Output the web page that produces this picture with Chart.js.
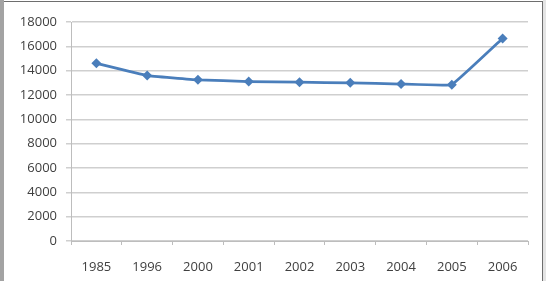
<!DOCTYPE html>
<html>
<head>
<meta charset="utf-8">
<script src="https://cdn.jsdelivr.net/npm/chart.js@4/dist/chart.umd.min.js"></script>
<style>
  html, body { margin: 0; padding: 0; background: #fff; overflow: hidden; }
  #wrap { position: absolute; left: 0; top: 0; width: 546px; height: 281px; }
  #chart { position: absolute; left: 0; top: 0; }
  .edge { position: absolute; pointer-events: none; }
</style>
</head>
<body>
<div id="wrap">
  <canvas id="chart" width="546" height="281"></canvas>
  <div class="edge" style="left:0;top:0;width:4px;height:281px;background:#a3a3a3;"></div>
  <div class="edge" style="left:4px;top:1px;width:539px;height:1px;background:#6e6e6e;"></div>
  <div class="edge" style="left:542px;top:1px;width:1px;height:280px;background:#6e6e6e;"></div>
  <div class="edge" style="left:543px;top:0;width:3px;height:281px;background:#e4e4e4;"></div>
</div>
<script>
const years = ['1985', '1996', '2000', '2001', '2002', '2003', '2004', '2005', '2006'];
const values = [14600, 13600, 13250, 13100, 13050, 13000, 12900, 12850, 16650];
const yTicks = [0, 2000, 4000, 6000, 8000, 10000, 12000, 14000, 16000, 18000];

const font = { family: "'Open Sans', sans-serif", size: 13 };

new Chart(document.getElementById('chart').getContext('2d'), {
    type: 'line',
    data: {
        labels: years,
        datasets: [{
            data: values,
            borderColor: '#4a7ebb',
            backgroundColor: '#4a7ebb',
            borderWidth: 2.75,
            tension: 0.06,
            pointStyle: 'rectRot',
            pointRadius: 5,
            pointBorderWidth: 0,
            fill: false,
        }]
    },
    options: {
        responsive: false,
        animation: false,
        layout: { padding: { top: 22, right: 18, bottom: 0, left: 0 } },
        plugins: {
            legend: { display: false },
            tooltip: { enabled: false },
        },
        scales: {
            x: {
                offset: true,
                grid: {
                    offset: true,
                    drawOnChartArea: false,
                    drawTicks: true,
                    tickLength: 4,
                    color: '#bdbdbd',
                },
                border: { display: true, color: '#bdbdbd', width: 1 },
                ticks: { color: '#404040', font: font, padding: 14, maxRotation: 0 },
                afterFit: (scale) => { scale.height = 40; },
            },
            y: {
                min: 0,
                max: 18000,
                afterBuildTicks: (scale) => { scale.ticks = yTicks.map(v => ({ value: v })); },
                grid: { color: '#cfcfcf', lineWidth: 1.5, tickLength: 5 },
                border: { display: true, color: '#bdbdbd', width: 1 },
                ticks: { color: '#404040', font: font, padding: 9, callback: (v) => String(v) },
                afterFit: (scale) => { scale.width = 71; },
            }
        }
    }
});
</script>
</body>
</html>
